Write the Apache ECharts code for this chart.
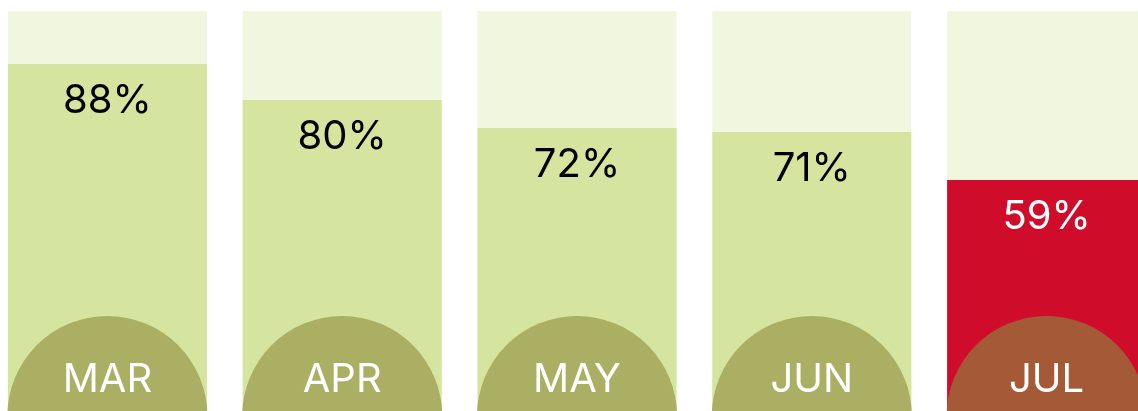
<!DOCTYPE html>
<html>
<head>
<meta charset="utf-8">
<style>
  html, body { margin: 0; padding: 0; background: #ffffff; }
  #chart { width: 1138px; height: 411px; }
</style>
<script src="https://cdn.jsdelivr.net/npm/echarts@6/dist/echarts.min.js"></script>
</head>
<body>
<div id="chart"></div>
<script>
const months = ['MAR', 'APR', 'MAY', 'JUN', 'JUL'];
const values = [88, 79, 72, 71, 59];
const valueLabels = ['88%', '80%', '72%', '71%', '59%'];
const fullValue = 101.25;
const highlighted = [false, false, false, false, true];

const FONT = 'Inter';
const chart = echarts.init(document.getElementById('chart'), null, { renderer: 'canvas' });

const bgData = months.map(() => fullValue);
const fgData = values.map((v, i) => ({
  value: v,
  itemStyle: { color: highlighted[i] ? '#cf0d2b' : '#d5e59f' },
  label: { color: highlighted[i] ? '#ffffff' : '#000000' }
}));
const circleData = months.map((m, i) => ({
  value: [i, 0],
  name: m,
  itemStyle: { color: highlighted[i] ? '#a55a37' : '#aaaf64', opacity: 1 }
}));

chart.setOption({
  animation: false,
  grid: {
    left: -10, top: 11, width: 1174, height: 405,
    containLabel: false,
    outerBoundsMode: 'none'
  },
  xAxis: {
    type: 'category',
    data: months,
    show: false
  },
  yAxis: {
    type: 'value',
    min: 0,
    max: fullValue,
    show: false
  },
  series: [
    {
      type: 'bar',
      data: bgData,
      barWidth: 199,
      barGap: '-100%',
      itemStyle: { color: '#f1f6df' },
      silent: true,
      z: 1
    },
    {
      type: 'bar',
      data: fgData,
      barWidth: 199,
      barGap: '-100%',
      silent: true,
      z: 2,
      label: {
        show: true,
        position: ['50%', 37],
        align: 'center',
        verticalAlign: 'middle',
        fontFamily: FONT,
        fontSize: 40,
        fontWeight: 'normal',
        formatter: p => valueLabels[p.dataIndex]
      }
    },
    {
      type: 'scatter',
      data: circleData,
      symbol: 'circle',
      symbolSize: 200,
      silent: true,
      clip: false,
      z: 3,
      itemStyle: { opacity: 1 },
      label: {
        show: true,
        position: 'inside',
        offset: [0, -36],
        color: '#ffffff',
        fontFamily: FONT,
        fontSize: 40,
        fontWeight: 'normal',
        formatter: p => p.name
      }
    }
  ]
});
</script>
</body>
</html>
